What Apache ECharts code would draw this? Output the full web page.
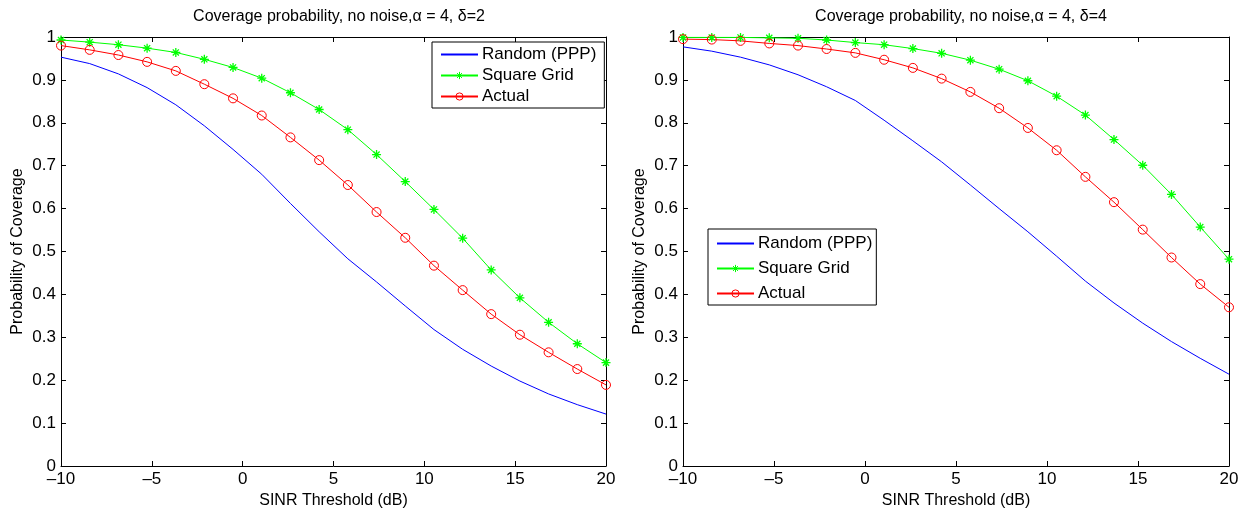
<!DOCTYPE html>
<html>
<head>
<meta charset="utf-8">
<script src="https://cdn.jsdelivr.net/npm/echarts@6/dist/echarts.min.js"></script>
<style>
  html, body { margin: 0; padding: 0; background: #fff; }
  #chart { width: 1247px; height: 512px; }
</style>
</head>
<body>
<div id="chart"></div>
<script>
// SINR threshold in dB, 20 samples from -10 to 20
const sinrDb = [-10, -8.42, -6.84, -5.26, -3.68, -2.11, -0.53, 1.05, 2.63, 4.21,
  5.79, 7.37, 8.95, 10.53, 12.11, 13.68, 15.26, 16.84, 18.42, 20]

const seriesNames = ['Random (PPP)', 'Square Grid', 'Actual']
const plotTitles = [
  'Coverage probability, no noise,\u03b1 = 4, \u03b4=2',
  'Coverage probability, no noise,\u03b1 = 4, \u03b4=4'
]
const xTicks = [-10, -5, 0, 5, 10, 15, 20]
const yTicks = [0, 0.1, 0.2, 0.3, 0.4, 0.5, 0.6, 0.7, 0.8, 0.9, 1]

// delta = 2
const randomD2 = [0.953, 0.938, 0.914, 0.882, 0.842, 0.793, 0.738, 0.680, 0.612, 0.546,
  0.483, 0.429, 0.373, 0.318, 0.272, 0.233, 0.198, 0.168, 0.143, 0.121]
const gridD2 = [0.993, 0.988, 0.982, 0.974, 0.964, 0.948, 0.929, 0.904, 0.870, 0.831,
  0.784, 0.726, 0.663, 0.598, 0.531, 0.457, 0.392, 0.335, 0.285, 0.241]
const actualD2 = [0.980, 0.970, 0.958, 0.942, 0.921, 0.890, 0.857, 0.817, 0.766, 0.713,
  0.655, 0.592, 0.532, 0.467, 0.410, 0.354, 0.306, 0.265, 0.226, 0.189]

// delta = 4
const randomD4 = [0.977, 0.967, 0.953, 0.935, 0.912, 0.884, 0.852, 0.806, 0.758, 0.709,
  0.655, 0.600, 0.546, 0.489, 0.431, 0.380, 0.333, 0.290, 0.251, 0.214]
const gridD4 = [0.999, 0.999, 0.999, 0.998, 0.997, 0.993, 0.987, 0.982, 0.973, 0.962,
  0.946, 0.925, 0.898, 0.862, 0.818, 0.761, 0.701, 0.633, 0.557, 0.482]
const actualD4 = [0.995, 0.994, 0.991, 0.985, 0.980, 0.972, 0.963, 0.947, 0.928, 0.903,
  0.872, 0.834, 0.788, 0.736, 0.674, 0.615, 0.551, 0.486, 0.424, 0.370]

const FONT = 'Liberation Sans, Arial, Helvetica, sans-serif'
const asterisk = 'path://M5,0L5,10M0,5L10,5M1.6,1.6L8.4,8.4M1.6,8.4L8.4,1.6'
const colors = ['#0000ff', '#00ff00', '#ff0000']

function pairs(ys) {
  return sinrDb.map((x, i) => [x, ys[i]])
}

function minusLabel(v) {
  return v < 0 ? '\u2013' + Math.abs(v) : String(v)
}

function mainX(gridIndex) {
  return {
    type: 'value', gridIndex, min: -10, max: 20, interval: 5,
    position: 'bottom',
    name: 'SINR Threshold (dB)', nameLocation: 'middle', nameGap: 19,
    nameTextStyle: { color: '#000', fontSize: 16, fontFamily: FONT },
    axisLine: { show: true, onZero: false, lineStyle: { color: '#000', width: 1 } },
    axisTick: { show: true, inside: true, length: 5, lineStyle: { color: '#000' } },
    axisLabel: { color: '#000', fontSize: 17, fontFamily: FONT, margin: 5, formatter: minusLabel },
    splitLine: { show: false }
  }
}

function topX(gridIndex) {
  return {
    type: 'value', gridIndex, min: -10, max: 20, interval: 5,
    position: 'top',
    axisLine: { show: true, onZero: false, lineStyle: { color: '#000', width: 1 } },
    axisTick: { show: true, inside: true, length: 5, lineStyle: { color: '#000' } },
    axisLabel: { show: false },
    splitLine: { show: false }
  }
}

function mainY(gridIndex) {
  return {
    type: 'value', gridIndex, min: 0, max: 1, interval: 0.1,
    position: 'left',
    name: 'Probability of Coverage', nameLocation: 'middle', nameGap: 35,
    nameTextStyle: { color: '#000', fontSize: 16, fontFamily: FONT },
    axisLine: { show: true, onZero: false, lineStyle: { color: '#000', width: 1 } },
    axisTick: { show: true, inside: true, length: 5, lineStyle: { color: '#000' } },
    axisLabel: {
      color: '#000', fontSize: 17, fontFamily: FONT, margin: 5,
      formatter: (v) => String(yTicks.find((t) => Math.abs(t - v) < 1e-6) ?? v)
    },
    splitLine: { show: false }
  }
}

function rightY(gridIndex) {
  return {
    type: 'value', gridIndex, min: 0, max: 1, interval: 0.1,
    position: 'right',
    axisLine: { show: true, onZero: false, lineStyle: { color: '#000', width: 1 } },
    axisTick: { show: true, inside: true, length: 5, lineStyle: { color: '#000' } },
    axisLabel: { show: false },
    splitLine: { show: false }
  }
}

function lines(axisIndex, random, grid, actual) {
  return [
    {
      name: seriesNames[0], type: 'line', xAxisIndex: axisIndex, yAxisIndex: axisIndex,
      data: pairs(random), showSymbol: false, symbol: 'none', clip: false,
      lineStyle: { color: colors[0], width: 1 }, itemStyle: { color: colors[0] }
    },
    {
      name: seriesNames[1], type: 'line', xAxisIndex: axisIndex, yAxisIndex: axisIndex,
      data: pairs(grid), symbol: asterisk, symbolSize: 9, clip: false,
      lineStyle: { color: colors[1], width: 1 },
      itemStyle: { color: 'rgba(0,0,0,0)', borderColor: colors[1], borderWidth: 1.3 }
    },
    {
      name: seriesNames[2], type: 'line', xAxisIndex: axisIndex, yAxisIndex: axisIndex,
      data: pairs(actual), symbol: 'circle', symbolSize: 9, clip: false,
      lineStyle: { color: colors[2], width: 1 },
      itemStyle: { color: 'rgba(0,0,0,0)', borderColor: colors[2], borderWidth: 1 }
    }
  ]
}

// fresh objects for each legend
function legendItems() {
  return [
    { name: seriesNames[0], icon: 'inherit', itemStyle: { opacity: 0 } },
    { name: seriesNames[1], icon: 'inherit',
      itemStyle: { color: 'rgba(0,0,0,0)', borderColor: colors[1], borderWidth: 1 } },
    { name: seriesNames[2], icon: 'inherit',
      itemStyle: { color: 'rgba(0,0,0,0)', borderColor: colors[2], borderWidth: 1 } }
  ]
}

function legendBox(left, top, gap, padding) {
  return {
    orient: 'vertical', left, top, padding, itemGap: gap,
    itemWidth: 37, itemHeight: 9,
    backgroundColor: '#fff', borderColor: '#000', borderWidth: 1, borderRadius: 0,
    data: legendItems(),
    textStyle: { color: '#000', fontSize: 17, fontFamily: FONT, padding: [0, 0, 0, -1] }
  }
}

const chart = echarts.init(document.getElementById('chart'))
chart.setOption({
  animation: false,
  backgroundColor: '#fff',
  title: [
    { text: plotTitles[0], left: 334, top: 4, textAlign: 'center',
      textStyle: { color: '#000', fontSize: 16, fontWeight: 'normal', fontFamily: FONT } },
    { text: plotTitles[1], left: 956, top: 4, textAlign: 'center',
      textStyle: { color: '#000', fontSize: 16, fontWeight: 'normal', fontFamily: FONT } }
  ],
  grid: [
    { left: 61, right: 641, top: 37, bottom: 46, containLabel: false, outerBoundsMode: 'none' },
    { left: 683, right: 18, top: 37, bottom: 46, containLabel: false, outerBoundsMode: 'none' }
  ],
  xAxis: [mainX(0), mainX(1), topX(0), topX(1)],
  yAxis: [mainY(0), mainY(1), rightY(0), rightY(1)],
  legend: [
    legendBox(432, 42, 4, [4, 8, 3, 8]),
    legendBox(708, 229, 8, [6, 4, 3, 8])
  ],
  series: [
    ...lines(0, randomD2, gridD2, actualD2),
    ...lines(1, randomD4, gridD4, actualD4)
  ]
})
</script>
</body>
</html>
